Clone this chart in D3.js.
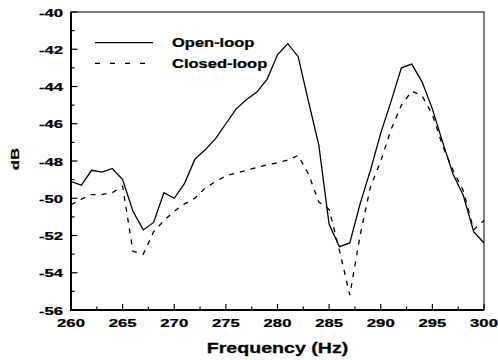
<!DOCTYPE html>
<html><head><meta charset="utf-8">
<script src="https://cdn.jsdelivr.net/npm/d3@7"></script>
<style>html,body{margin:0;padding:0;background:#fff;}svg{display:block;}</style>
</head><body>
<svg id="chart" width="498" height="360"></svg>
<script>
const frequency = [260,261,262,263,264,265,266,267,268,269,270,271,272,273,274,275,276,277,278,279,280,
                   281,282,283,284,285,286,287,288,289,290,291,292,293,294,295,296,297,298,299,300];
const openLoop = [-49.1,-49.3,-48.5,-48.6,-48.4,-49.0,-50.7,-51.7,-51.3,-49.7,-50.0,-49.2,-47.9,-47.4,-46.8,-46.0,-45.2,-44.7,-44.3,-43.6,-42.3,
                  -41.7,-42.4,-44.8,-47.15,-51.4,-52.6,-52.4,-50.3,-48.5,-46.5,-44.8,-43.0,-42.8,-43.75,-45.2,-47.0,-48.7,-49.85,-51.8,-52.4];
const closedLoop = [-50.35,-50.05,-49.8,-49.8,-49.7,-49.35,-52.85,-53.0,-51.8,-51.2,-50.7,-50.3,-50.0,-49.45,-49.1,-48.8,-48.65,-48.5,-48.35,-48.2,-48.1,
                    -47.95,-47.7,-48.7,-50.2,-50.6,-52.8,-55.2,-52.0,-49.4,-48.0,-46.3,-45.0,-44.25,-44.5,-45.5,-47.2,-48.5,-49.6,-51.7,-51.2];
const xTicks = [260,265,270,275,280,285,290,295,300];
const xMinorTicks = [262.5,267.5,272.5,277.5,282.5,287.5,292.5,297.5];
const yTicks = [-40,-42,-44,-46,-48,-50,-52,-54,-56];
const yMinorTicks = [-41,-43,-45,-47,-49,-51,-53,-55];
const seriesNames = ["Open-loop","Closed-loop"];

const svg = d3.select("#chart");
const L = 71, R = 484, T = 12, B = 310;
const x = d3.scaleLinear().domain([260,300]).range([L,R]);
const y = d3.scaleLinear().domain([-56,-40]).range([B,T]);
const font = "'Liberation Sans', Arial, sans-serif";
const SX = 1.45;

// frame
svg.append("rect").attr("x",L).attr("y",T).attr("width",R-L).attr("height",B-T)
  .attr("fill","none").attr("stroke","#000").attr("stroke-width",1);

// ticks (inward)
const g = svg.append("g").attr("stroke","#000").attr("stroke-width",1.2);
xTicks.forEach(v=>g.append("line").attr("x1",x(v)).attr("x2",x(v)).attr("y1",B).attr("y2",B-6));
xMinorTicks.forEach(v=>g.append("line").attr("x1",x(v)).attr("x2",x(v)).attr("y1",B).attr("y2",B-3.5));
yTicks.forEach(v=>g.append("line").attr("x1",L).attr("x2",L+6.5).attr("y1",y(v)).attr("y2",y(v)));
yMinorTicks.forEach(v=>g.append("line").attr("x1",L).attr("x2",L+3.5).attr("y1",y(v)).attr("y2",y(v)));

// thick left & bottom axis lines
svg.append("line").attr("x1",L).attr("x2",L).attr("y1",T).attr("y2",B+0.8).attr("stroke","#000").attr("stroke-width",2);
svg.append("line").attr("x1",L-0.8).attr("x2",R).attr("y1",B).attr("y2",B).attr("stroke","#000").attr("stroke-width",2);

// tick labels
const heavy = sel => sel.attr("font-family",font).attr("font-weight","bold")
  .attr("stroke","#000").attr("stroke-width",0.25).attr("fill","#000");
xTicks.forEach(v=>{
  svg.append("text").attr("transform",`translate(${x(v)},${326.5}) scale(${SX},1)`)
    .attr("text-anchor","middle").call(heavy).attr("font-size",11.5).text(v);
});
yTicks.forEach(v=>{
  svg.append("text").attr("transform",`translate(63,${y(v)+4.6}) scale(${SX},1)`)
    .attr("text-anchor","end").call(heavy).attr("font-size",11.5).text(v);
});

// axis titles
svg.append("text").attr("transform",`translate(${(L+R)/2},353) scale(1.4,1)`)
  .attr("text-anchor","middle").call(heavy).attr("font-size",14).text("Frequency (Hz)");
svg.append("text").attr("transform",`translate(18.5,159) rotate(-90) scale(1.2,0.8)`)
  .attr("text-anchor","middle").call(heavy).attr("font-size",14).text("dB");

// lines
const line = d3.line().x((d,i)=>x(frequency[i])).y(d=>y(d));
svg.append("path").datum(openLoop).attr("d",line).attr("fill","none")
  .attr("stroke","#000").attr("stroke-width",1.3).attr("stroke-linejoin","miter");
svg.append("path").datum(closedLoop).attr("d",line).attr("fill","none")
  .attr("stroke","#000").attr("stroke-width",1.3).attr("stroke-dasharray","5,6");

// legend
const legendY = [42.7, 63.3];
svg.append("line").attr("x1",95).attr("x2",153).attr("y1",legendY[0]).attr("y2",legendY[0])
  .attr("stroke","#000").attr("stroke-width",1.3);
svg.append("line").attr("x1",95).attr("x2",153).attr("y1",legendY[1]).attr("y2",legendY[1])
  .attr("stroke","#000").attr("stroke-width",1.3).attr("stroke-dasharray","5,10");
seriesNames.forEach((n,i)=>{
  svg.append("text").attr("transform",`translate(172,${legendY[i]+4.6}) scale(1.32,1)`)
    .call(heavy).attr("font-size",12.5).text(n);
});
</script>
</body></html>
